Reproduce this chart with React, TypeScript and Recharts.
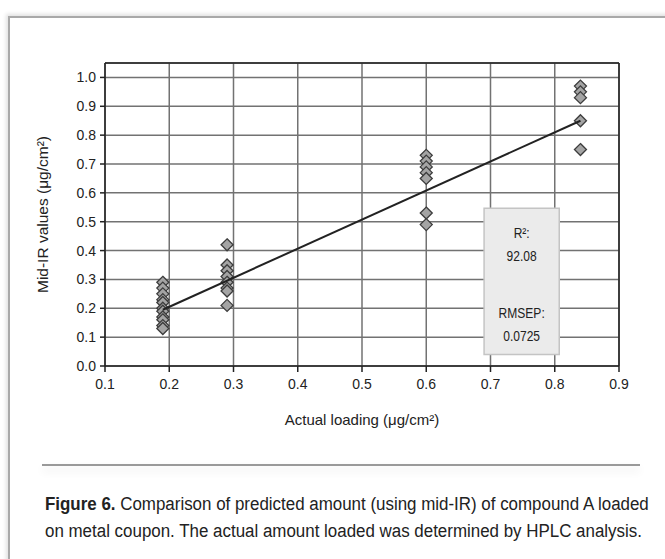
import {
  CartesianGrid,
  Label,
  ReferenceArea,
  ReferenceLine,
  Scatter,
  ScatterChart,
  XAxis,
  YAxis,
} from "recharts";

// actual loading levels (µg/cm2) and mid-IR predictions at each level
const loadingLevels = [0.19, 0.29, 0.6, 0.84];
const predictedLevel1 = [0.29, 0.27, 0.25, 0.23, 0.22, 0.2, 0.19, 0.17, 0.16, 0.14, 0.13];
const predictedLevel2 = [0.42, 0.35, 0.33, 0.31, 0.29, 0.27, 0.26, 0.21];
const predictedLevel3 = [0.73, 0.71, 0.69, 0.67, 0.65, 0.53, 0.49];
const predictedLevel4 = [0.97, 0.95, 0.93, 0.85, 0.75];

// regression line end points
const fitX = [0.19, 0.84];
const fitY = [0.195, 0.85];

const xTicks = [0.1, 0.2, 0.3, 0.4, 0.5, 0.6, 0.7, 0.8, 0.9];
const yTicks = [0, 0.1, 0.2, 0.3, 0.4, 0.5, 0.6, 0.7, 0.8, 0.9, 1.0];

const statsLabels = ["R²:", "92.08", "RMSEP:", "0.0725"];

const groups = [predictedLevel1, predictedLevel2, predictedLevel3, predictedLevel4];
const points = groups.flatMap((vals, i) =>
  vals.map((y) => ({ x: loadingLevels[i], y }))
);
const fitData = fitX.map((x, i) => ({ x, y: fitY[i] }));

const Diamond = (props: any) => {
  const { cx, cy } = props;
  const r = 6;
  return (
    <polygon
      points={`${cx},${cy - r} ${cx + r},${cy} ${cx},${cy + r} ${cx - r},${cy}`}
      fill="#a4a4a4"
      stroke="#3c3c3c"
      strokeWidth={1.3}
    />
  );
};

const StatsBox = (props: any) => {
  const { x, y, width } = props.viewBox;
  const cx = x + width / 2;
  const offsets = [25, 48, 105, 128];
  return (
    <g>
      {statsLabels.map((t, i) => (
        <text
          key={t}
          x={cx}
          y={y + offsets[i]}
          textAnchor="middle"
          dominantBaseline="central"
          fontFamily="'Liberation Sans', sans-serif"
          fontSize={14}
          fill="#222"
          transform={`translate(${cx},0) scale(0.86,1) translate(${-cx},0)`}
        >
          {t}
        </text>
      ))}
    </g>
  );
};

const tickStyle = { fontSize: 14, fill: "#222", fontFamily: "'Liberation Sans', Arial, sans-serif" };

export default function App() {
  return (
    <div
      style={{
        position: "absolute",
        left: 0,
        top: 0,
        width: 665,
        height: 559,
        overflow: "hidden",
        background: "#fff",
        fontFamily: "'Liberation Sans', Arial, sans-serif",
      }}
    >
      <div
        style={{
          position: "absolute",
          left: 8,
          top: 16,
          width: 720,
          height: 620,
          borderLeft: "2px solid #a9a9a9",
          borderTop: "2px solid #a9a9a9",
          boxShadow: "-2px -2px 4px rgba(0,0,0,0.12)",
        }}
      />
      <div style={{ position: "absolute", left: 0, top: 0 }}>
        <ScatterChart
          width={665}
          height={440}
          margin={{ top: 63, right: 46, left: 45, bottom: 14 }}
        >
          <CartesianGrid stroke="#727272" strokeWidth={1.5} />
          <XAxis
            type="number"
            dataKey="x"
            domain={[0.1, 0.9]}
            ticks={xTicks}
            tickFormatter={(v: number) => v.toFixed(1)}
            tick={tickStyle}
            tickSize={6}
            tickMargin={7}
            stroke="#222"
            strokeWidth={1.5}
            height={60}
          >
            <Label
              value="Actual loading (μg/cm²)"
              position="insideBottom"
              offset={1}
              style={{ fontSize: 15, fill: "#222" }}
            />
          </XAxis>
          <YAxis
            type="number"
            dataKey="y"
            domain={[0, 1.05]}
            ticks={yTicks}
            tickFormatter={(v: number) => v.toFixed(1)}
            tick={tickStyle}
            tickSize={5}
            tickMargin={4}
            stroke="#222"
            strokeWidth={1.5}
            width={60}
          >
            <Label
              value="Mid-IR values (μg/cm²)"
              angle={-90}
              position="insideLeft"
              offset={-3}
              style={{ fontSize: 15.5, fill: "#222", textAnchor: "middle" }}
            />
          </YAxis>
          <ReferenceLine y={1.05} stroke="#222" strokeWidth={1.5} />
          <ReferenceLine x={0.9} stroke="#222" strokeWidth={1.5} />
          <ReferenceArea
            x1={0.69}
            x2={0.807}
            y1={0.04}
            y2={0.547}
            fill="#ebebeb"
            fillOpacity={1}
            stroke="#c4c4c4"
            strokeWidth={1.5}
          >
            <Label content={<StatsBox />} />
          </ReferenceArea>
          <Scatter data={points} shape={<Diamond />} isAnimationActive={false} />
          <Scatter
            data={fitData}
            line={{ stroke: "#222", strokeWidth: 2 }}
            shape={() => <g />}
            isAnimationActive={false}
          />
        </ScatterChart>
      </div>
      <div
        style={{
          position: "absolute",
          left: 42,
          top: 464,
          width: 598,
          height: 2,
          background: "#9a9a9a",
          boxShadow: "0 5px 8px rgba(0,0,0,0.12)",
        }}
      />
      <div
        style={{
          position: "absolute",
          left: 45,
          top: 491,
          width: 700,
          fontFamily: "'Liberation Sans', sans-serif",
          fontSize: 18,
          lineHeight: "27px",
          color: "#222",
          whiteSpace: "nowrap",
          transform: "scaleX(0.94)",
          transformOrigin: "0 0",
        }}
      >
        <div>
          <b>Figure 6.</b> Comparison of predicted amount (using mid-IR) of compound A loaded
        </div>
        <div>on metal coupon. The actual amount loaded was determined by HPLC analysis.</div>
      </div>
    </div>
  );
}
